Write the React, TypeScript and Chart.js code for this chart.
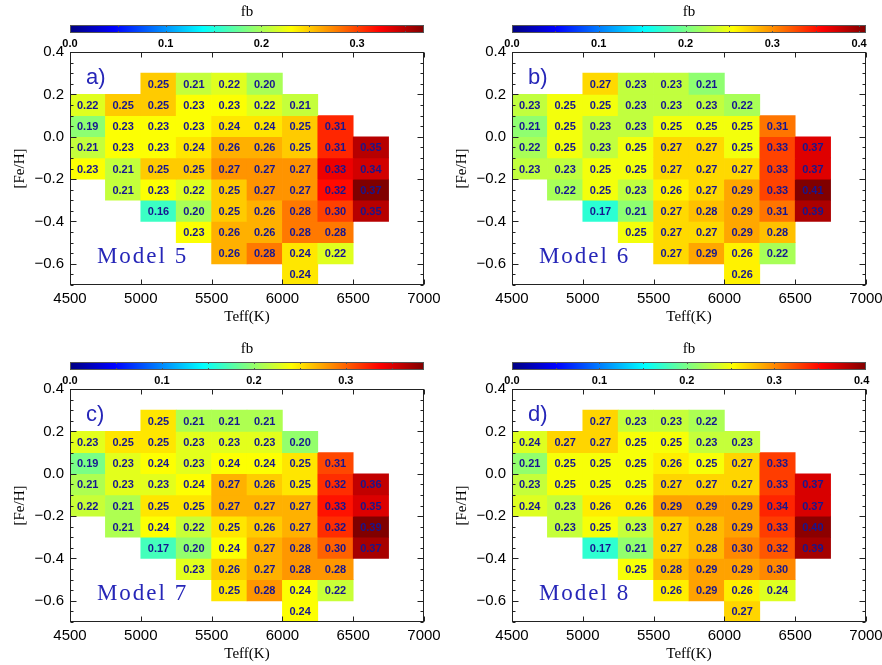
import React, { useEffect, useRef } from "react";
import { Chart, registerables } from "chart.js";
Chart.register(...registerables);

// ---- data ----
const TEFF_BIN_LEFT = [4500, 4750, 5000, 5250, 5500, 5750, 6000, 6250, 6500];
const TEFF_BIN_WIDTH = 250;
const FEH_BIN_LOW = [0.2, 0.1, 0.0, -0.1, -0.2, -0.3, -0.4, -0.5, -0.6, -0.7];
const FEH_BIN_HEIGHT = 0.1;

const X_TICKS = [4500, 5000, 5500, 6000, 6500, 7000];
const Y_TICKS = [0.4, 0.2, 0.0, -0.2, -0.4, -0.6];

const _ = null;
const MODEL5 = [
  [_, _, 0.25, 0.21, 0.22, 0.20, _, _, _],
  [0.22, 0.25, 0.25, 0.23, 0.23, 0.22, 0.21, _, _],
  [0.19, 0.23, 0.23, 0.23, 0.24, 0.24, 0.25, 0.31, _],
  [0.21, 0.23, 0.23, 0.24, 0.26, 0.26, 0.25, 0.31, 0.35],
  [0.23, 0.21, 0.25, 0.25, 0.27, 0.27, 0.27, 0.33, 0.34],
  [_, 0.21, 0.23, 0.22, 0.25, 0.27, 0.27, 0.32, 0.37],
  [_, _, 0.16, 0.20, 0.25, 0.26, 0.28, 0.30, 0.35],
  [_, _, _, 0.23, 0.26, 0.26, 0.28, 0.28, _],
  [_, _, _, _, 0.26, 0.28, 0.24, 0.22, _],
  [_, _, _, _, _, _, 0.24, _, _],
];
const MODEL6 = [
  [_, _, 0.27, 0.23, 0.23, 0.21, _, _, _],
  [0.23, 0.25, 0.25, 0.23, 0.23, 0.23, 0.22, _, _],
  [0.21, 0.25, 0.23, 0.23, 0.25, 0.25, 0.25, 0.31, _],
  [0.22, 0.25, 0.23, 0.25, 0.27, 0.27, 0.25, 0.33, 0.37],
  [0.23, 0.23, 0.25, 0.25, 0.27, 0.27, 0.27, 0.33, 0.37],
  [_, 0.22, 0.25, 0.23, 0.26, 0.27, 0.29, 0.33, 0.41],
  [_, _, 0.17, 0.21, 0.27, 0.28, 0.29, 0.31, 0.39],
  [_, _, _, 0.25, 0.27, 0.27, 0.29, 0.28, _],
  [_, _, _, _, 0.27, 0.29, 0.26, 0.22, _],
  [_, _, _, _, _, _, 0.26, _, _],
];
const MODEL7 = [
  [_, _, 0.25, 0.21, 0.21, 0.21, _, _, _],
  [0.23, 0.25, 0.25, 0.23, 0.23, 0.23, 0.20, _, _],
  [0.19, 0.23, 0.24, 0.23, 0.24, 0.24, 0.25, 0.31, _],
  [0.21, 0.23, 0.23, 0.24, 0.27, 0.26, 0.25, 0.32, 0.36],
  [0.22, 0.21, 0.25, 0.25, 0.27, 0.27, 0.27, 0.33, 0.35],
  [_, 0.21, 0.24, 0.22, 0.25, 0.26, 0.27, 0.32, 0.39],
  [_, _, 0.17, 0.20, 0.24, 0.27, 0.28, 0.30, 0.37],
  [_, _, _, 0.23, 0.26, 0.27, 0.28, 0.28, _],
  [_, _, _, _, 0.25, 0.28, 0.24, 0.22, _],
  [_, _, _, _, _, _, 0.24, _, _],
];
const MODEL8 = [
  [_, _, 0.27, 0.23, 0.23, 0.22, _, _, _],
  [0.24, 0.27, 0.27, 0.25, 0.25, 0.23, 0.23, _, _],
  [0.21, 0.25, 0.25, 0.25, 0.26, 0.25, 0.27, 0.33, _],
  [0.23, 0.25, 0.25, 0.25, 0.27, 0.27, 0.27, 0.33, 0.37],
  [0.24, 0.23, 0.26, 0.26, 0.29, 0.29, 0.29, 0.34, 0.37],
  [_, 0.23, 0.25, 0.23, 0.27, 0.28, 0.29, 0.33, 0.40],
  [_, _, 0.17, 0.21, 0.27, 0.28, 0.30, 0.32, 0.39],
  [_, _, _, 0.25, 0.28, 0.29, 0.29, 0.30, _],
  [_, _, _, _, 0.26, 0.29, 0.26, 0.24, _],
  [_, _, _, _, _, _, 0.27, _, _],
];

const CB_TICKS_LOW = [0, 0.1, 0.2, 0.3];
const CB_TICKS_HIGH = [0, 0.1, 0.2, 0.3, 0.4];
const CB_MAX = [0.37, 0.408, 0.385, 0.405];

const PANELS = [
  { letter: "a)", model: "Model 5", values: MODEL5, vmax: CB_MAX[0], cbTicks: CB_TICKS_LOW },
  { letter: "b)", model: "Model 6", values: MODEL6, vmax: CB_MAX[1], cbTicks: CB_TICKS_HIGH },
  { letter: "c)", model: "Model 7", values: MODEL7, vmax: CB_MAX[2], cbTicks: CB_TICKS_LOW },
  { letter: "d)", model: "Model 8", values: MODEL8, vmax: CB_MAX[3], cbTicks: CB_TICKS_HIGH },
];

// ---- layout / style ----
const LAYOUT = [
  { left: 0, top: 0, padLeft: 6, padRight: 36 },
  { left: 441, top: 0, padLeft: 7, padRight: 35 },
  { left: 0, top: 337, padLeft: 6, padRight: 36 },
  { left: 441, top: 337, padLeft: 7, padRight: 35 },
];
const CANVAS_W = 460;
const CANVAS_H = 328;
const LETTER_POS = { x: 4613, y: 0.249 };
const MODEL_POS = { x: 4690, y: -0.596 };
const LABEL_BLUE = "#2626b8";
const CELL_TEXT = "#161690";
const SANS = '"Liberation Sans", Arial, sans-serif';
const SERIF = '"Liberation Serif", "Times New Roman", serif';

function jet(t: number) {
  const tt = Math.min(1, Math.max(0, t));
  const f = (c: number) => Math.round(255 * Math.min(1, Math.max(0, 1.5 - Math.abs(4 * tt - c))));
  return `rgb(${f(3)},${f(2)},${f(1)})`;
}

function Panel({ cfg, layout }: any) {
  const ref = useRef<HTMLCanvasElement>(null);
  useEffect(() => {
    const canvas = ref.current!;
    const datasets = FEH_BIN_LOW.map((lo, r) => ({
      type: "bar" as const,
      label: "row" + r,
      data: cfg.values[r]
        .map((v: number | null, c: number) =>
          v == null ? null : { x: TEFF_BIN_LEFT[c] + TEFF_BIN_WIDTH / 2, y: [lo, lo + FEH_BIN_HEIGHT], v }
        )
        .filter((d: any) => d !== null),
      backgroundColor: (ctx: any) => (ctx.raw ? jet(ctx.raw.v / cfg.vmax) : "rgba(0,0,0,0)"),
      borderWidth: 0,
      grouped: false,
      categoryPercentage: 1,
      barPercentage: 1,
      xAxisID: "x",
      yAxisID: "y",
    }));

    const deco = {
      id: "deco",
      afterDatasetsDraw(chart: any) {
        const ctx = chart.ctx;
        ctx.save();
        ctx.font = `bold 11px ${SANS}`;
        ctx.fillStyle = CELL_TEXT;
        ctx.textAlign = "center";
        ctx.textBaseline = "middle";
        chart.data.datasets.forEach((ds: any, i: number) => {
          const meta = chart.getDatasetMeta(i);
          meta.data.forEach((el: any, j: number) => {
            const p = el.getCenterPoint();
            ctx.fillText(ds.data[j].v.toFixed(2), p.x, p.y + 1);
          });
        });
        ctx.restore();
      },
      afterDraw(chart: any) {
        const ctx = chart.ctx;
        const { left, right, top, bottom } = chart.chartArea;
        const xs = chart.scales.x;
        const ys = chart.scales.y;
        const cb = chart.scales.cb;
        ctx.save();
        // frame
        ctx.strokeStyle = "#222";
        ctx.lineWidth = 1;
        const L = Math.round(left) + 0.5, R = Math.round(right) - 0.5;
        const T = Math.round(top) + 0.5, B = Math.round(bottom) - 0.5;
        ctx.strokeRect(L, T, R - L, B - T);
        ctx.beginPath();
        // y ticks (major + minor every 0.05)
        for (let k = -14; k <= 8; k++) {
          const v = k * 0.05;
          const py = Math.round(ys.getPixelForValue(v)) + 0.5;
          const major = Y_TICKS.some((t) => Math.abs(t - v) < 1e-6);
          const len = major ? 6 : 3;
          ctx.moveTo(L, py); ctx.lineTo(L + len, py);
          ctx.moveTo(R, py); ctx.lineTo(R - len, py);
        }
        for (const v of X_TICKS) {
          const px = Math.round(xs.getPixelForValue(v)) + 0.5;
          ctx.moveTo(px, B); ctx.lineTo(px, B - 5);
          ctx.moveTo(px, T); ctx.lineTo(px, T + 5);
        }
        ctx.stroke();

        // colorbar
        const x0 = cb.getPixelForValue(0);
        const x1 = cb.getPixelForValue(cfg.vmax);
        const yTop = top - 27;
        const h = 8;
        const grad = ctx.createLinearGradient(x0, 0, x1, 0);
        for (let k = 0; k <= 32; k++) grad.addColorStop(k / 32, jet(k / 32));
        ctx.fillStyle = grad;
        ctx.fillRect(x0, yTop, x1 - x0, h);
        ctx.strokeStyle = "#555";
        ctx.strokeRect(Math.round(x0) + 0.5, yTop + 0.5, Math.round(x1 - x0) - 1, h - 1);
        ctx.beginPath();
        for (let k = 1; k * 0.05 < cfg.vmax - 0.005; k++) {
          const px = Math.round(cb.getPixelForValue(k * 0.05)) + 0.5;
          ctx.moveTo(px, yTop); ctx.lineTo(px, yTop + 2);
          ctx.moveTo(px, yTop + h); ctx.lineTo(px, yTop + h - 2);
        }
        ctx.stroke();

        // panel letter and model name
        ctx.fillStyle = LABEL_BLUE;
        ctx.textAlign = "left";
        ctx.textBaseline = "alphabetic";
        ctx.font = `22px ${SANS}`;
        ctx.fillText(cfg.letter, xs.getPixelForValue(LETTER_POS.x), ys.getPixelForValue(LETTER_POS.y));
        ctx.font = `23px ${SERIF}`;
        try { (ctx as any).letterSpacing = "2px"; } catch (e) {}
        ctx.fillText(cfg.model, xs.getPixelForValue(MODEL_POS.x), ys.getPixelForValue(MODEL_POS.y));
        try { (ctx as any).letterSpacing = "0px"; } catch (e) {}
        ctx.restore();
      },
    };

    const fmt = (v: any) => {
      const s = Number(v).toFixed(1);
      return s.startsWith("-") ? "\u2212" + s.slice(1) : s;
    };

    const noGrid = { display: false, drawTicks: false, offset: false };

    const chart = new Chart(canvas, {
      type: "bar",
      data: { datasets: datasets as any },
      plugins: [deco],
      options: {
        responsive: false,
        animation: false,
        events: [],
        layout: { padding: { left: layout.padLeft, right: layout.padRight, top: 0, bottom: 0 } },
        plugins: { legend: { display: false }, tooltip: { enabled: false }, title: { display: false } },
        scales: {
          x: {
            type: "linear",
            position: "bottom",
            min: 4500,
            max: 7000,
            offset: false,
            grid: noGrid,
            border: { display: false },
            afterBuildTicks: (s: any) => { s.ticks = X_TICKS.map((v) => ({ value: v })); },
            afterFit: (s: any) => { s.height = 43; },
            ticks: {
              autoSkip: false,
              maxRotation: 0,
              padding: 5,
              color: "#000",
              font: { family: SANS, size: 15 },
              callback: (v: any) => String(v),
            },
            title: {
              display: true,
              text: "Teff(K)",
              color: "#000",
              font: { family: SERIF, size: 15 },
              padding: { top: 0, bottom: 2 },
            },
          },
          y: {
            type: "linear",
            position: "left",
            min: -0.7,
            max: 0.4,
            offset: false,
            grid: noGrid,
            border: { display: false },
            afterBuildTicks: (s: any) => { s.ticks = Y_TICKS.map((v) => ({ value: v })); },
            afterFit: (s: any) => { s.width = 64; },
            ticks: {
              autoSkip: false,
              padding: 6,
              color: "#000",
              font: { family: SANS, size: 15 },
              callback: fmt,
            },
            title: {
              display: true,
              text: "[Fe/H]",
              color: "#000",
              font: { family: SERIF, size: 15 },
              padding: { top: 5, bottom: 0 },
            },
          },
          cb: {
            type: "linear",
            position: "top",
            axis: "x",
            min: 0,
            max: cfg.vmax,
            offset: false,
            grid: noGrid,
            border: { display: false },
            afterBuildTicks: (s: any) => { s.ticks = cfg.cbTicks.map((v: number) => ({ value: v })); },
            afterFit: (s: any) => { s.height = 52; },
            ticks: {
              autoSkip: false,
              maxRotation: 0,
              padding: 1.5,
              color: "#000",
              font: { family: SANS, size: 11, weight: "bold" },
              callback: fmt,
            },
            title: {
              display: true,
              text: "fb",
              color: "#000",
              font: { family: SERIF, size: 15 },
              padding: { top: 3, bottom: 0 },
            },
          },
        } as any,
      } as any,
    });
    return () => chart.destroy();
  }, [cfg, layout]);

  return (
    <canvas
      ref={ref}
      width={CANVAS_W}
      height={CANVAS_H}
      style={{ position: "absolute", left: layout.left, top: layout.top, width: CANVAS_W, height: CANVAS_H }}
    />
  );
}

export default function App() {
  return (
    <div
      style={{
        position: "absolute",
        left: 0,
        top: 0,
        width: 882,
        height: 665,
        overflow: "hidden",
        background: "#fff",
      }}
    >
      {PANELS.map((p, i) => (
        <Panel key={i} cfg={p} layout={LAYOUT[i]} />
      ))}
    </div>
  );
}
